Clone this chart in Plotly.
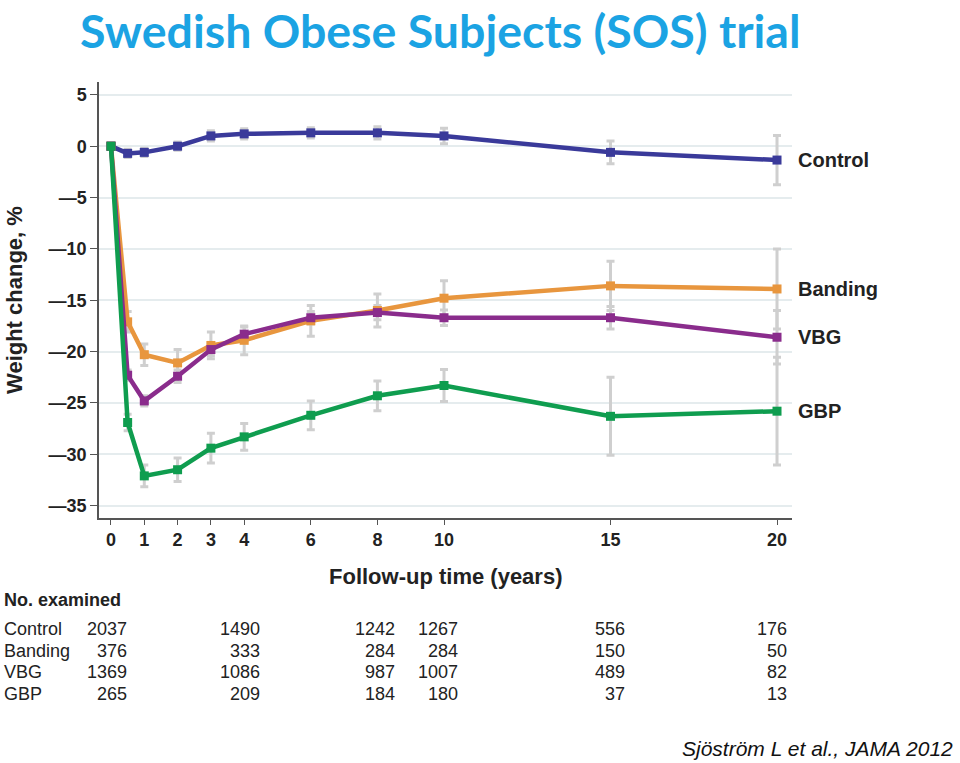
import plotly.graph_objects as go

years = [0, 0.5, 1, 2, 3, 4, 6, 8, 10, 15, 20]
groups = ["Control", "Banding", "VBG", "GBP"]
control = [0, -0.7, -0.6, 0.0, 1.0, 1.2, 1.3, 1.3, 1.0, -0.6, -1.35]
banding = [0, -17.1, -20.3, -21.1, -19.4, -18.9, -17.0, -16.0, -14.8, -13.6, -13.9]
vbg = [0, -22.3, -24.8, -22.4, -19.8, -18.3, -16.7, -16.2, -16.7, -16.7, -18.6]
gbp = [0, -26.9, -32.1, -31.5, -29.4, -28.3, -26.2, -24.3, -23.3, -26.3, -25.8]
control_err = [0, 0.4, 0.4, 0.4, 0.5, 0.5, 0.5, 0.6, 0.75, 1.1, 2.4]
banding_err = [0, 1.0, 1.05, 1.3, 1.3, 1.4, 1.5, 1.6, 1.7, 2.4, 3.9]
vbg_err = [0, 0.5, 0.5, 0.6, 0.6, 0.7, 0.6, 0.7, 0.75, 1.1, 2.6]
gbp_err = [0, 0.8, 1.05, 1.15, 1.45, 1.3, 1.4, 1.45, 1.55, 3.8, 5.25]

y_ticks = [5, 0, -5, -10, -15, -20, -25, -30, -35]
x_ticks = [0, 1, 2, 3, 4, 6, 8, 10, 15, 20]

table_years = [0, 4, 8, 10, 15, 20]
n_control = [2037, 1490, 1242, 1267, 556, 176]
n_banding = [376, 333, 284, 284, 150, 50]
n_vbg = [1369, 1086, 987, 1007, 489, 82]
n_gbp = [265, 209, 184, 180, 37, 13]

series = [control, banding, vbg, gbp]
errors = [control_err, banding_err, vbg_err, gbp_err]
counts = [n_control, n_banding, n_vbg, n_gbp]
colors = ["#3a3a9a", "#e8963e", "#8a2c8c", "#0f9d4f"]

fig = go.Figure()
for vals, err in zip(series, errors):
    fig.add_trace(go.Scatter(
        x=years, y=vals, mode="markers",
        marker=dict(size=1, color="rgba(0,0,0,0)"),
        error_y=dict(type="data", array=err, color="#cfcfcf", thickness=3, width=4),
        showlegend=False, hoverinfo="skip"))
for name, vals, col in zip(groups, series, colors):
    fig.add_trace(go.Scatter(
        x=years, y=vals, mode="lines+markers", name=name,
        line=dict(color=col, width=4.5),
        marker=dict(symbol="square", size=9, color=col),
        showlegend=False))

ann = []
# right-side group labels
for name, vals in zip(groups, series):
    ann.append(dict(x=1.006, xref="paper", y=vals[-1], yref="y", text=name,
                    showarrow=False, xanchor="left", yanchor="middle",
                    font=dict(family="Liberation Sans", size=20, weight="bold", color="#222")))
# title
ann.append(dict(x=-0.031, xref="paper", y=518 / 436, yref="paper",
                text="Swedish Obese Subjects (SOS) trial", showarrow=False,
                xanchor="left", yanchor="top",
                font=dict(family="Lato", size=46.5, weight="bold", color="#1ba3e3")))
# axis titles
ann.append(dict(x=0.5, xref="paper", y=-0.1353, yref="paper",
                text="Follow-up time (years)", showarrow=False,
                xanchor="center", yanchor="middle",
                font=dict(family="Liberation Sans", size=22, weight="bold", color="#222")))
ann.append(dict(x=-0.1227, xref="paper", y=0.5, yref="paper",
                text="Weight change, %", showarrow=False, textangle=-90,
                xanchor="center", yanchor="middle",
                font=dict(family="Liberation Sans", size=22, weight="bold", color="#222")))
# table
ann.append(dict(x=-0.14, xref="paper", y=-0.188, yref="paper",
                text="No. examined", showarrow=False, xanchor="left", yanchor="middle",
                font=dict(family="Liberation Sans", size=18, weight="bold", color="#222")))
row_y = [-0.2546, -0.305, -0.353, -0.4037]
col_shift = [18, 18, 20, 16, 16, 12]
tfont = dict(family="Liberation Sans", size=18, color="#222")
for name, cnt, ry in zip(groups, counts, row_y):
    ann.append(dict(x=-0.14, xref="paper", y=ry, yref="paper", text=name,
                    showarrow=False, xanchor="left", yanchor="middle", font=tfont))
    for yr, c, sh in zip(table_years, cnt, col_shift):
        ann.append(dict(x=yr, xref="x", y=ry, yref="paper", text=str(c),
                        showarrow=False, xanchor="right", yanchor="middle",
                        xshift=sh, font=tfont))
# citation
ann.append(dict(x=(955 - 99) / 693, xref="paper", y=(518 - 748) / 436, yref="paper",
                text="Sjöström L et al., JAMA 2012", showarrow=False,
                xanchor="right", yanchor="middle",
                font=dict(family="Liberation Sans", size=21, style="italic", color="#111")))

fig.update_layout(
    width=960, height=763,
    margin=dict(l=99, r=168, t=82, b=245),
    paper_bgcolor="white", plot_bgcolor="white",
    annotations=ann,
    xaxis=dict(range=[-0.36, 20.45], tickvals=x_ticks, ticktext=[str(v) for v in x_ticks],
               showgrid=False, zeroline=False, showline=True, linecolor="#555", linewidth=1.5,
               ticks="outside", ticklen=5, tickcolor="#555",
               tickfont=dict(family="Liberation Sans", size=18, weight="bold", color="#222")),
    yaxis=dict(range=[-36.2, 6.25], tickvals=y_ticks,
               ticktext=[("—" + str(-v)) if v < 0 else str(v) for v in y_ticks],
               showgrid=True, gridcolor="#e5ecee", gridwidth=1.5, zeroline=False,
               showline=True, linecolor="#555", linewidth=1.5,
               ticks="outside", ticklen=7, tickcolor="#555",
               tickfont=dict(family="Liberation Sans", size=18, weight="bold", color="#222")),
)

fig.write_html("out.html", config={"displayModeBar": False},
               post_script="document.body.style.margin='0';document.body.style.overflow='hidden';")
